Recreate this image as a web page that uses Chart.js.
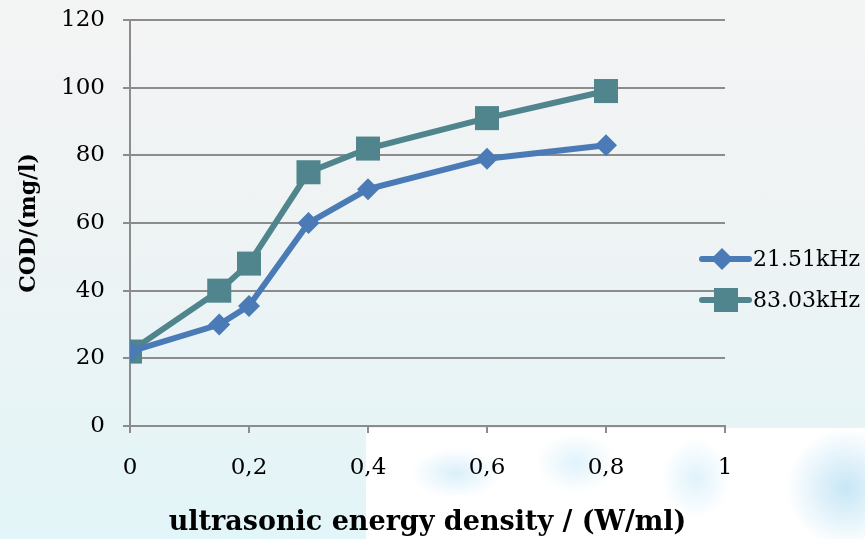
<!DOCTYPE html>
<html>
<head>
<meta charset="utf-8">
<script src="https://cdn.jsdelivr.net/npm/chart.js@4.4.0/dist/chart.umd.min.js"></script>
<style>
  html, body { margin: 0; padding: 0; }
  #wrap {
    position: relative; width: 865px; height: 539px; overflow: hidden;
    background: linear-gradient(to bottom, #f4f4f4 0%, #eef3f4 45%, #e2f5f8 100%);
  }
  #patch {
    position: absolute; left: 366px; top: 428px; width: 499px; height: 111px;
    background:
      radial-gradient(ellipse 45px 25px at 90px 45px, rgba(150,210,240,0.35), rgba(150,210,240,0) 100%),
      radial-gradient(ellipse 40px 30px at 210px 35px, rgba(150,215,240,0.3), rgba(150,215,240,0) 100%),
      radial-gradient(ellipse 35px 40px at 330px 50px, rgba(150,215,240,0.3), rgba(150,215,240,0) 100%),
      radial-gradient(ellipse 60px 60px at 480px 60px, rgba(130,200,235,0.45), rgba(130,200,235,0) 100%),
      #ffffff;
  }
  canvas { position: absolute; left: 0; top: 0; }
</style>
</head>
<body>
<div id="wrap">
  <div id="patch"></div>
  <canvas id="grafico" width="865" height="539"></canvas>
</div>
<script>
// datos
const energia = [0, 0.15, 0.2, 0.3, 0.4, 0.6, 0.8];
const cod2151 = [22, 30, 35.5, 60, 70, 79, 83];
const cod8303 = [22, 40, 48, 75, 82, 91, 99];
const nombresSeries = ['21.51kHz', '83.03kHz'];
const xTickLabels = ['0', '0,2', '0,4', '0,6', '0,8', '1'];
const yTickLabels = ['0', '20', '40', '60', '80', '100', '120'];

const azul = '#4a7bb6';
const verde = '#50858d';
const gris = '#8c8c8c';
const fuente = "'DejaVu Serif', 'Liberation Serif', serif";

function puntos(valores) {
  return energia.map((x, i) => ({ x: x, y: valores[i] }));
}

// leyenda dibujada a mano (linea + marcador como en Excel)
const leyendaPlugin = {
  id: 'leyendaExcel',
  afterDraw(chart) {
    const ctx = chart.ctx;
    const filas = [259, 300];
    chart.data.datasets.forEach((ds, i) => {
      const y = filas[i];
      ctx.save();
      ctx.strokeStyle = ds.borderColor;
      ctx.lineWidth = 6;
      ctx.lineCap = 'round';
      ctx.beginPath();
      ctx.moveTo(702, y);
      ctx.lineTo(749, y);
      ctx.stroke();
      ctx.fillStyle = ds.borderColor;
      if (ds.pointStyle === 'rect') {
        ctx.fillRect(714, y - 12, 24, 24);
      } else {
        ctx.beginPath();
        ctx.moveTo(722, y - 11);
        ctx.lineTo(733, y);
        ctx.lineTo(722, y + 11);
        ctx.lineTo(711, y);
        ctx.closePath();
        ctx.fill();
      }
      ctx.fillStyle = '#000';
      ctx.font = '22px ' + fuente;
      ctx.textBaseline = 'middle';
      ctx.textAlign = 'left';
      ctx.fillText(ds.label, 753, y + 1);
      ctx.restore();
    });
  }
};

const ctx = document.getElementById('grafico');
new Chart(ctx.getContext('2d'), {
  type: 'line',
  data: {
    datasets: [
      {
        label: nombresSeries[0],
        data: puntos(cod2151),
        borderColor: azul,
        backgroundColor: azul,
        borderWidth: 6,
        pointStyle: 'rectRot',
        pointRadius: 11,
        pointBorderWidth: 0,
        pointBackgroundColor: azul,
        tension: 0
      },
      {
        label: nombresSeries[1],
        data: puntos(cod8303),
        borderColor: verde,
        backgroundColor: verde,
        borderWidth: 6,
        pointStyle: 'rect',
        pointRadius: 17,
        pointBorderWidth: 0,
        pointBackgroundColor: verde,
        tension: 0
      }
    ]
  },
  options: {
    responsive: false,
    animation: false,
    layout: { padding: { left: 0, right: 140, top: 20, bottom: 0 } },
    plugins: {
      legend: { display: false },
      tooltip: { enabled: false }
    },
    scales: {
      x: {
        type: 'linear',
        min: 0,
        max: 1,
        afterFit(scale) { scale.height = 539 - 426; },
        afterBuildTicks(scale) {
          scale.ticks = xTickLabels.map((t, i) => ({ value: i * 0.2 }));
        },
        ticks: {
          color: '#000',
          padding: 21,
          font: { family: fuente, size: 23 },
          maxRotation: 0,
          callback: (v, i) => xTickLabels[i]
        },
        grid: {
          drawOnChartArea: false,
          drawTicks: true,
          tickLength: 7,
          color: gris,
          lineWidth: 2
        },
        border: { color: gris, width: 2 },
        title: {
          display: true,
          text: 'ultrasonic energy density / (W/ml)',
          color: '#000',
          font: { family: fuente, size: 27, weight: 'bold' },
          padding: { top: 0, bottom: 0 }
        }
      },
      y: {
        min: 0,
        max: 120,
        afterFit(scale) {
          scale.width = 130;
          scale.paddingTop = 20; // que el 120 no empuje el área del gráfico
        },
        afterBuildTicks(scale) {
          scale.ticks = yTickLabels.map(t => ({ value: Number(t) }));
        },
        ticks: {
          color: '#000',
          padding: 18,
          font: { family: fuente, size: 23 },
          callback: (v, i) => yTickLabels[i]
        },
        grid: {
          color: gris,
          lineWidth: 2,
          drawTicks: true,
          tickLength: 7
        },
        border: { color: gris, width: 2 },
        title: {
          display: true,
          text: 'COD/(mg/l)',
          color: '#000',
          font: { family: fuente, size: 22, weight: 'bold' },
          padding: { top: 16, bottom: 0 }
        }
      }
    }
  },
  plugins: [leyendaPlugin]
});
</script>
</body>
</html>
